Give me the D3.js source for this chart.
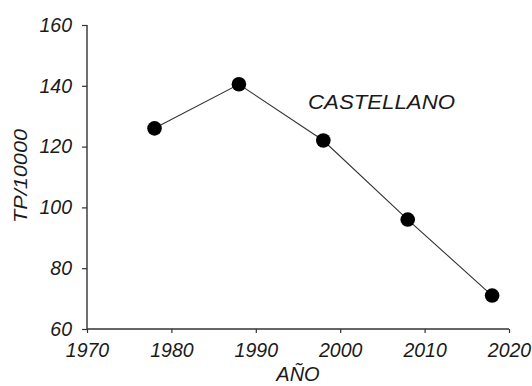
<!DOCTYPE html>
<html><head><meta charset="utf-8">
<script src="https://cdn.jsdelivr.net/npm/d3@7"></script>
<style>
html,body{margin:0;padding:0;background:#fff;}
svg{display:block;}
text{font-family:"Liberation Sans",Arial,sans-serif;font-style:italic;fill:#1a1a1a;}
</style></head>
<body>
<script>
const years = [1978, 1988, 1998, 2008, 2018];
const values = [126, 140.5, 122, 96, 71];
const xTicks = [1970, 1980, 1990, 2000, 2010, 2020];
const yTicks = [60, 80, 100, 120, 140, 160];
const seriesLabel = "CASTELLANO";
const xTitle = "AÑO";
const yTitle = "TP/10000";

const W = 532, H = 386;
const svg = d3.select("body").append("svg").attr("width", W).attr("height", H);

const x = d3.scaleLinear().domain([1970, 2020]).range([87, 509]);
const y = d3.scaleLinear().domain([60, 160]).range([329, 25]);

const xAxis = svg.append("g").attr("transform", "translate(0,329)")
  .call(d3.axisBottom(x).tickValues(xTicks).tickFormat(d3.format("d")).tickSize(4).tickPadding(10));
const yAxis = svg.append("g").attr("transform", "translate(87,0)")
  .call(d3.axisLeft(y).tickValues(yTicks).tickSize(5).tickPadding(10));

[xAxis, yAxis].forEach(g => {
  g.select(".domain").attr("stroke", "#333").attr("stroke-width", 1.4);
  g.selectAll(".tick line").attr("stroke", "#333").attr("stroke-width", 1.2);
  g.selectAll(".tick text").style("font-size", "19.5px").attr("fill", "#1a1a1a");
});
xAxis.select(".domain").attr("d", `M${x(1970)},0H${x(2020)}`);
yAxis.select(".domain").attr("d", `M0,${y(160)}V${y(60)}`);
xAxis.selectAll(".tick text").attr("dy", "0.71em");

const line = d3.line().x((d, i) => x(years[i])).y(d => y(d));
svg.append("path").datum(values).attr("d", line)
  .attr("fill", "none").attr("stroke", "#333").attr("stroke-width", 1.1);

svg.selectAll("circle.pt").data(values).enter().append("circle")
  .attr("class", "pt")
  .attr("cx", (d, i) => x(years[i])).attr("cy", d => y(d))
  .attr("r", 7.3).attr("fill", "#000");

svg.append("text").attr("x", 308).attr("y", 108.5)
  .attr("textLength", 147).attr("lengthAdjust", "spacingAndGlyphs")
  .style("font-size", "19.5px").text(seriesLabel);

svg.append("text").attr("x", 298).attr("y", 381).attr("text-anchor", "middle")
  .style("font-size", "20px").text(xTitle);

svg.append("text").attr("transform", "translate(27,176) rotate(-90)")
  .attr("text-anchor", "middle")
  .attr("textLength", 94).attr("lengthAdjust", "spacingAndGlyphs")
  .style("font-size", "18px").text(yTitle);
</script>
</body></html>
